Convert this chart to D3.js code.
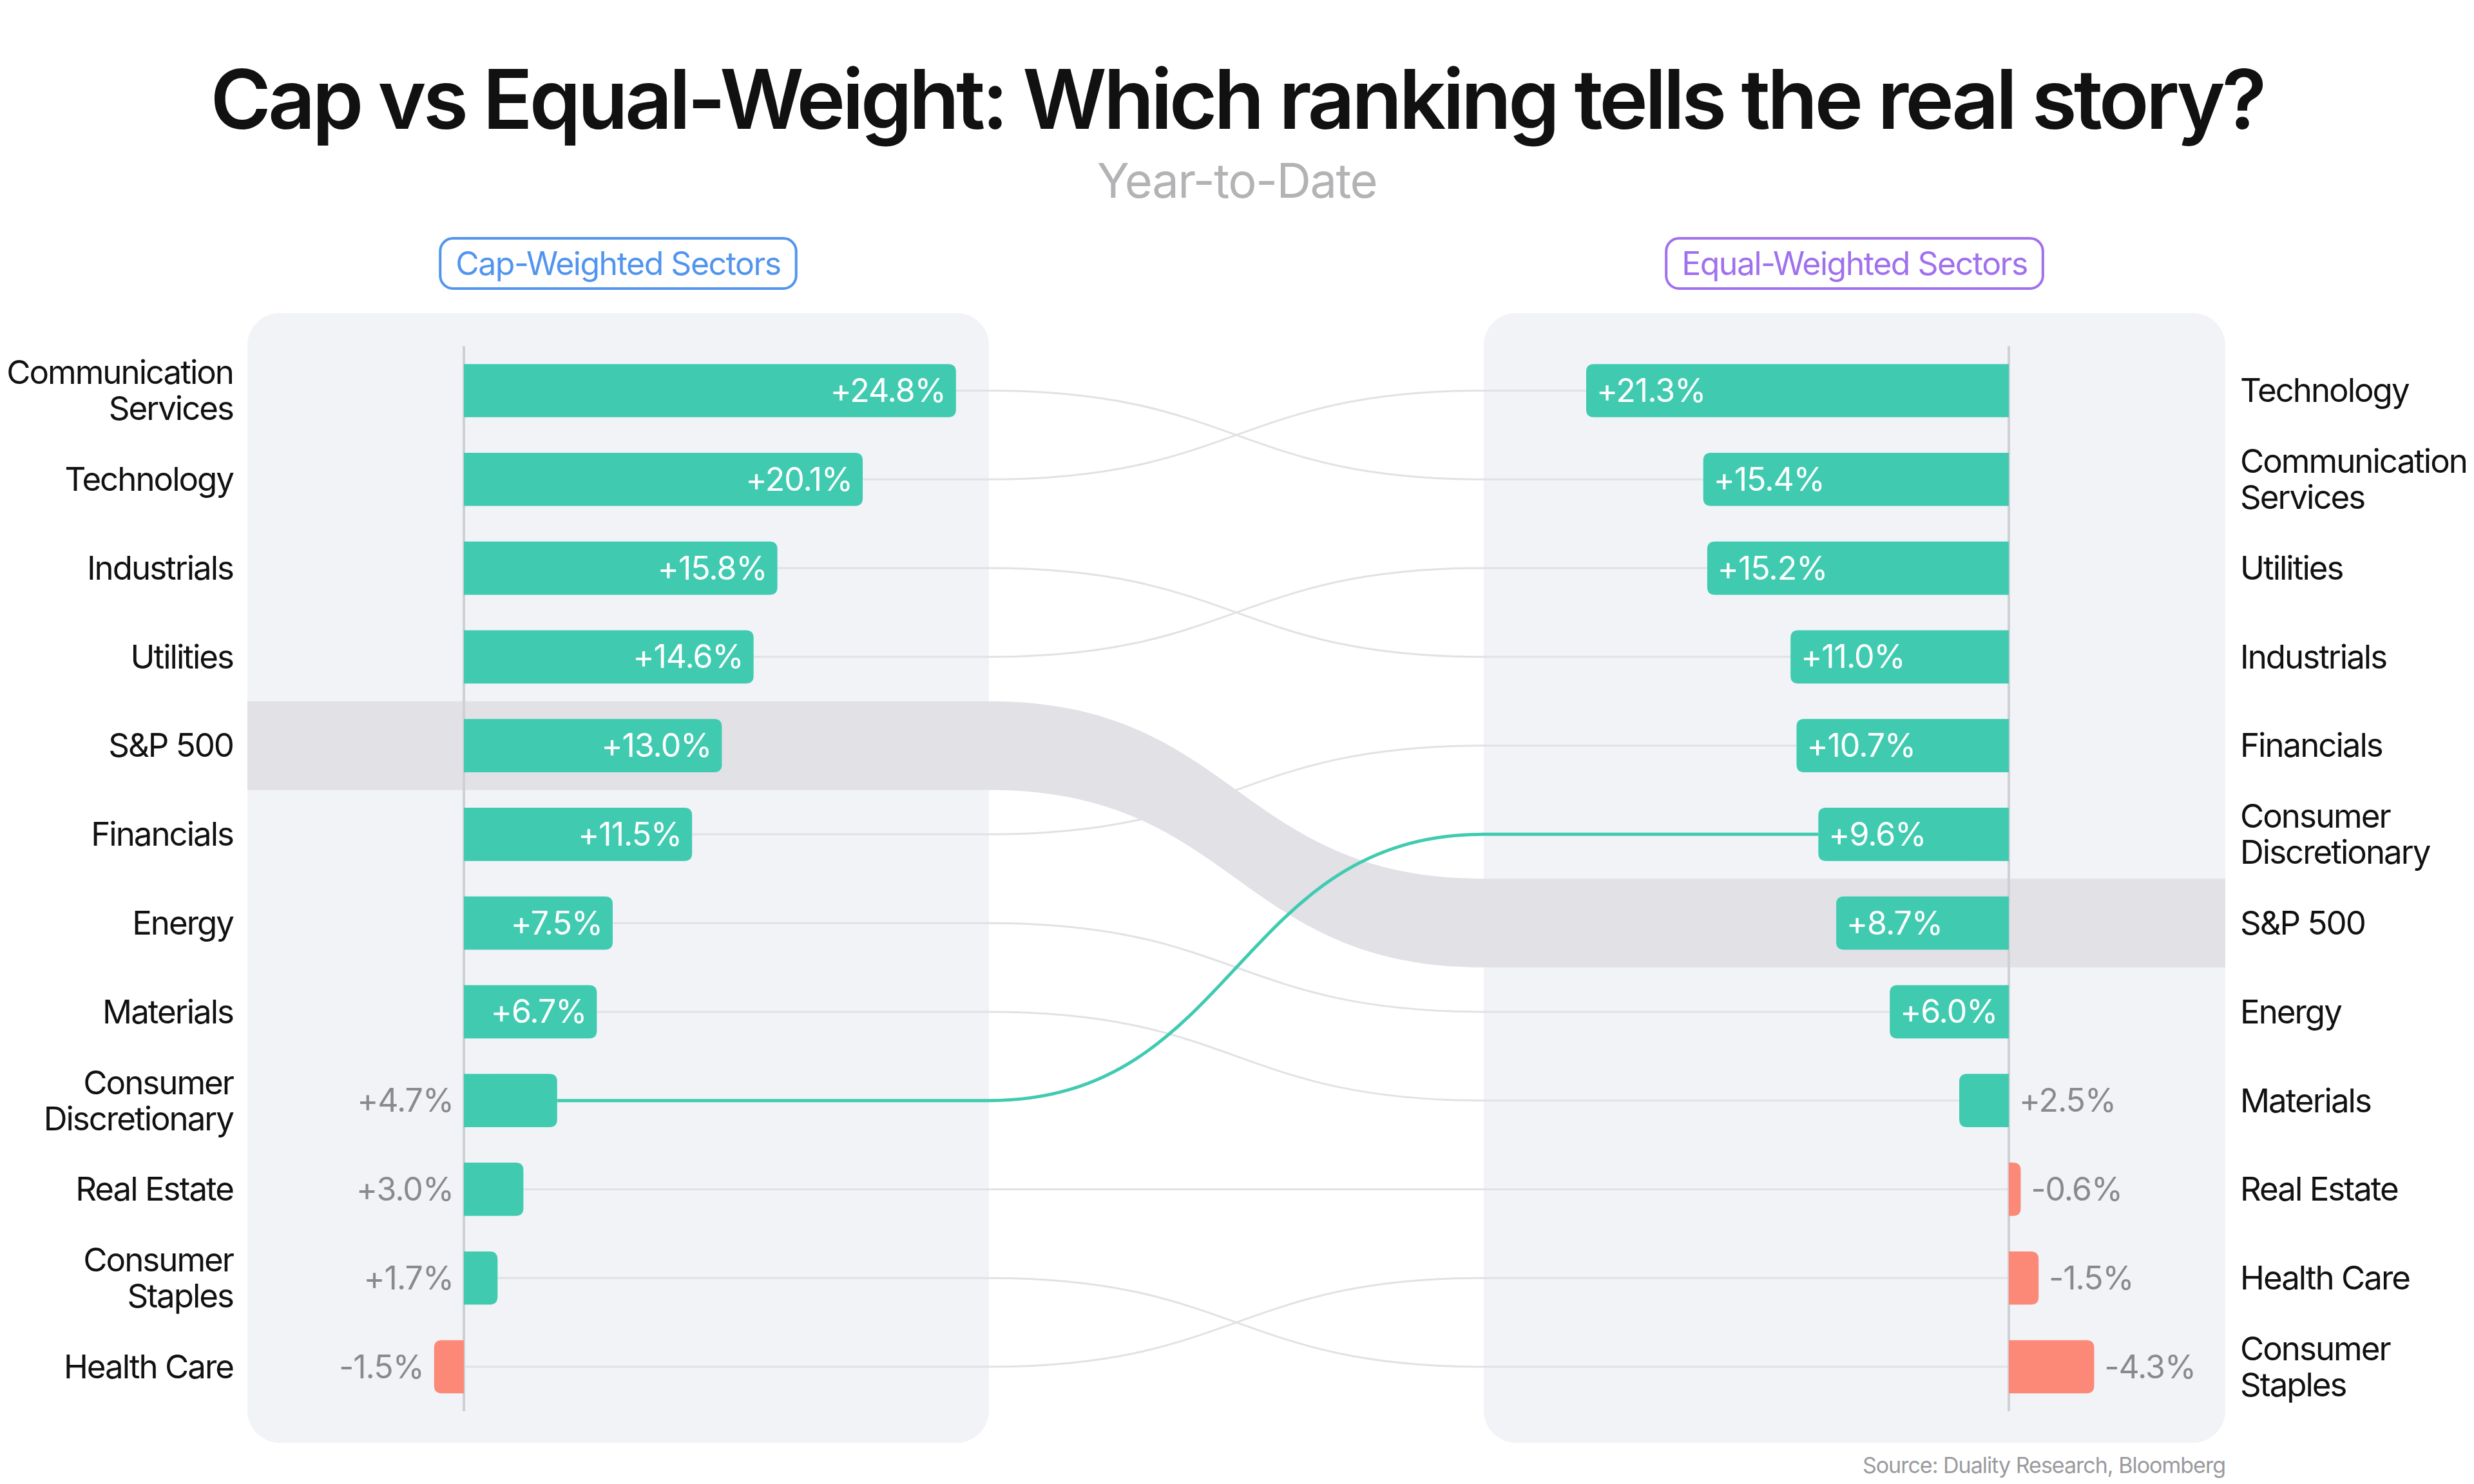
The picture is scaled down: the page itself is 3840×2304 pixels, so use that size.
<!DOCTYPE html>
<html>
<head>
<meta charset="utf-8">
<script src="https://cdn.jsdelivr.net/npm/d3@7"></script>
<style>
  html, body { margin: 0; padding: 0; background: #fff; }
  svg { display: block; font-family: Inter, "Noto Sans", sans-serif; }
</style>
</head>
<body>
<div id="chart"></div>
<script>
// Sector names and YTD returns (%)
const sectors = ["Communication Services", "Technology", "Industrials", "Utilities", "S&P 500",
  "Financials", "Energy", "Materials", "Consumer Discretionary", "Real Estate", "Consumer Staples", "Health Care"];
const capWeighted = [24.8, 20.1, 15.8, 14.6, 13.0, 11.5, 7.5, 6.7, 4.7, 3.0, 1.7, -1.5];
const equalWeighted = [15.4, 21.3, 11.0, 15.2, 8.7, 10.7, 6.0, 2.5, 9.6, -0.6, -4.3, -1.5];
const highlightSector = "Consumer Discretionary";
const benchmark = "S&P 500";

const width = 3840, height = 2304;
const teal = "#40cbb1", salmon = "#fc8877";

const svg = d3.select("#chart").append("svg")
  .attr("width", width).attr("height", height);

// rankings
const capOrder = sectors.slice().sort((a, b) => capWeighted[sectors.indexOf(b)] - capWeighted[sectors.indexOf(a)]);
const eqOrder = sectors.slice().sort((a, b) => equalWeighted[sectors.indexOf(b)] - equalWeighted[sectors.indexOf(a)]);

const yCap = d3.scalePoint().domain(capOrder).range([606.5, 2122]);
const yEq = d3.scalePoint().domain(eqOrder).range([606.5, 2122]);
const step = yCap.step();
const barH = step * 0.6;

// left bars grow right, right bars grow left
const xLeft = d3.scaleLinear().domain([0, 25]).range([720, 1490]);
const xRight = d3.scaleLinear().domain([0, 25]).range([3118, 2348]);

const panelL = { x0: 384, x1: 1535 }, panelR = { x0: 2303, x1: 3454 };
const panelTop = 486, panelBottom = 2240;

// Title
svg.append("text")
  .attr("x", width / 2).attr("y", 200)
  .attr("text-anchor", "middle")
  .style("font-size", "128px").style("font-weight", 600)
  .style("letter-spacing", "-5px")
  .attr("fill", "#111")
  .text("Cap vs Equal-Weight: Which ranking tells the real story?");

svg.append("text")
  .attr("x", width / 2).attr("y", 307)
  .attr("text-anchor", "middle")
  .style("font-size", "74px").style("letter-spacing", "-1.5px")
  .attr("fill", "#b3b3b6")
  .text("Year-to-Date");

// Panels
[panelL, panelR].forEach(p => {
  svg.append("rect")
    .attr("x", p.x0).attr("y", panelTop)
    .attr("width", p.x1 - p.x0).attr("height", panelBottom - panelTop)
    .attr("rx", 50).attr("fill", "#f2f3f7");
});

// Pill headers
function pill(cx, label, color) {
  const g = svg.append("g");
  const t = g.append("text")
    .attr("x", cx).attr("y", 409)
    .attr("text-anchor", "middle").attr("dy", "0.35em")
    .style("font-size", "50px").style("letter-spacing", "-1.5px").attr("fill", color)
    .text(label);
  const w = t.node().getComputedTextLength() + 48;
  g.insert("rect", "text")
    .attr("x", cx - w / 2).attr("y", 370)
    .attr("width", w).attr("height", 78)
    .attr("rx", 20).attr("fill", "#fff")
    .attr("stroke", color).attr("stroke-width", 4);
}
pill((panelL.x0 + panelL.x1) / 2, "Cap-Weighted Sectors", "#5195ee");
pill((panelR.x0 + panelR.x1) / 2, "Equal-Weighted Sectors", "#a070ee");

const midX = (panelL.x1 + panelR.x0) / 2;

// connector path
function link(x0, y0, x1, y1) {
  return `M${x0},${y0}H${panelL.x1}C${midX},${y0} ${midX},${y1} ${panelR.x0},${y1}H${x1}`;
}

const rows = sectors.map((s, i) => ({
  name: s, cap: capWeighted[i], eq: equalWeighted[i],
  yL: yCap(s), yR: yEq(s)
}));

const gLines = svg.append("g");
rows.filter(d => d.name !== benchmark && d.name !== highlightSector).forEach(d => {
  const x0 = Math.max(xLeft(d.cap), xLeft(0));
  const x1 = Math.min(xRight(d.eq), xRight(0));
  gLines.append("path")
    .attr("d", link(x0, d.yL, x1, d.yR))
    .attr("fill", "none").attr("stroke", "#e2e2e6").attr("stroke-width", 3);
});

// benchmark band
const b = rows.find(d => d.name === benchmark);
const h = step / 2;
svg.append("path")
  .attr("d", `M${panelL.x0},${b.yL - h}H${panelL.x1}C${midX},${b.yL - h} ${midX},${b.yR - h} ${panelR.x0},${b.yR - h}H${panelR.x1}` +
    `V${b.yR + h}H${panelR.x0}C${midX},${b.yR + h} ${midX},${b.yL + h} ${panelL.x1},${b.yL + h}H${panelL.x0}Z`)
  .attr("fill", "#e1e1e6");

// highlighted connector
const hl = rows.find(d => d.name === highlightSector);
svg.append("path")
  .attr("d", link(Math.max(xLeft(hl.cap), xLeft(0)), hl.yL, Math.min(xRight(hl.eq), xRight(0)), hl.yR))
  .attr("fill", "none").attr("stroke", teal).attr("stroke-width", 5);

// axis lines
[xLeft(0), xRight(0)].forEach(x => {
  svg.append("line")
    .attr("x1", x).attr("x2", x)
    .attr("y1", yCap.range()[0] - step / 2).attr("y2", yCap.range()[1] + step / 2)
    .attr("stroke", "#cfd0d6").attr("stroke-width", 4);
});

// bar with rounded outer end only
function barPath(xa, xb, yc) {
  const r = Math.min(12, Math.abs(xb - xa));
  const t = yc - barH / 2, bt = yc + barH / 2;
  if (xb >= xa) {
    return `M${xa},${t}H${xb - r}Q${xb},${t} ${xb},${t + r}V${bt - r}Q${xb},${bt} ${xb - r},${bt}H${xa}Z`;
  }
  return `M${xa},${t}H${xb + r}Q${xb},${t} ${xb},${t + r}V${bt - r}Q${xb},${bt} ${xb + r},${bt}H${xa}Z`;
}

function valueText(sel) {
  return sel.attr("dy", "0.35em").style("font-size", "50px").style("letter-spacing", "-1px");
}

rows.forEach(d => {
  // left panel
  const a = xLeft(0), e = xLeft(d.cap);
  svg.append("path").attr("d", barPath(a, e, d.yL)).attr("fill", d.cap >= 0 ? teal : salmon);
  const txt = (d.cap >= 0 ? "+" : "") + d.cap.toFixed(1) + "%";
  if (Math.abs(e - a) > 160) {
    valueText(svg.append("text").attr("x", e - 16).attr("y", d.yL))
      .attr("text-anchor", "end").attr("fill", "#fff").text(txt);
  } else {
    valueText(svg.append("text").attr("x", Math.min(a, e) - 16).attr("y", d.yL))
      .attr("text-anchor", "end").attr("fill", "#8a8a8e").text(txt);
  }

  // right panel
  const a2 = xRight(0), e2 = xRight(d.eq);
  svg.append("path").attr("d", barPath(a2, e2, d.yR)).attr("fill", d.eq >= 0 ? teal : salmon);
  const txt2 = (d.eq >= 0 ? "+" : "") + d.eq.toFixed(1) + "%";
  if (Math.abs(e2 - a2) > 160) {
    valueText(svg.append("text").attr("x", e2 + 16).attr("y", d.yR))
      .attr("text-anchor", "start").attr("fill", "#fff").text(txt2);
  } else {
    valueText(svg.append("text").attr("x", Math.max(a2, e2) + 16).attr("y", d.yR))
      .attr("text-anchor", "start").attr("fill", "#8a8a8e").text(txt2);
  }
});

// sector labels, two lines where the name has two words (except S&P / Real Estate / Health Care)
const singleLine = ["S&P 500", "Real Estate", "Health Care"];
function sectorLabel(x, y, name, anchor) {
  const lines = singleLine.includes(name) ? [name] : name.split(" ");
  const lh = 56;
  const t = svg.append("text").attr("x", x).attr("y", y)
    .attr("text-anchor", anchor).style("font-size", "51px").style("letter-spacing", "-2px")
    .attr("fill", "#111");
  lines.forEach((l, i) => {
    t.append("tspan").attr("x", x)
      .attr("y", y + (i - (lines.length - 1) / 2) * lh)
      .attr("dy", "0.35em").text(l);
  });
}
rows.forEach(d => {
  sectorLabel(362, d.yL, d.name, "end");
  sectorLabel(3477, d.yR, d.name, "start");
});

// source
svg.append("text")
  .attr("x", panelR.x1).attr("y", 2287)
  .attr("text-anchor", "end")
  .style("font-size", "34px").style("letter-spacing", "-1px").attr("fill", "#9a9a9e")
  .text("Source: Duality Research, Bloomberg");
</script>
</body>
</html>
